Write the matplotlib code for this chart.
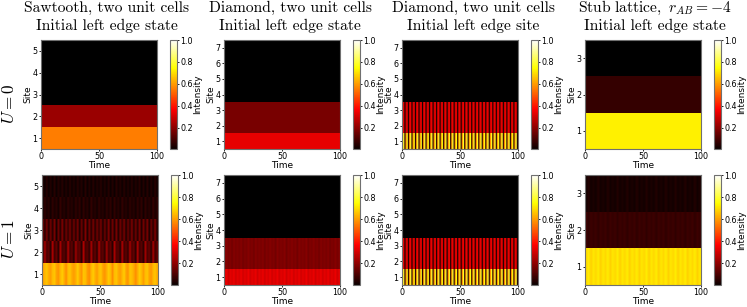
import copy
import numpy as np
import matplotlib
matplotlib.use('Agg')
from matplotlib import pyplot as plt

plt.rcParams['mathtext.fontset'] = 'cm'

W, H = 747, 307

# intensity per site, each row is one site over time (a single value = constant)
saw_top = [[0.555], [0.22], [0.0], [0.0], [0.0]]
saw_bot = [
    [0.60, 0.64, 0.66, 0.62, 0.60, 0.65, 0.66, 0.61, 0.59, 0.64, 0.67, 0.63, 0.58, 0.65, 0.66, 0.62,
     0.60, 0.63, 0.67, 0.62, 0.59, 0.66, 0.65, 0.60, 0.58, 0.64, 0.67, 0.63, 0.60, 0.65, 0.66, 0.61,
     0.59, 0.63, 0.67, 0.64, 0.58, 0.65, 0.66, 0.62, 0.60, 0.64, 0.67, 0.61, 0.59, 0.66, 0.65, 0.62,
     0.58, 0.63, 0.67, 0.64, 0.60, 0.65, 0.66, 0.61, 0.59, 0.64, 0.66, 0.62],
    [0.06, 0.24, 0.10, 0.13, 0.05, 0.25, 0.09, 0.14, 0.05, 0.24, 0.10, 0.12, 0.06, 0.25, 0.09, 0.13,
     0.05, 0.23, 0.11, 0.14, 0.05, 0.25, 0.10, 0.12, 0.06, 0.24, 0.09, 0.14, 0.05, 0.25, 0.10, 0.13,
     0.06, 0.23, 0.09, 0.14, 0.05, 0.24, 0.11, 0.12, 0.05, 0.25, 0.09, 0.13, 0.06, 0.24, 0.10, 0.14,
     0.05, 0.25, 0.09, 0.12, 0.06, 0.23, 0.10, 0.14, 0.05, 0.24, 0.09, 0.13],
    [0.16, 0.05, 0.17, 0.04, 0.16, 0.05, 0.17, 0.03, 0.15, 0.05, 0.18, 0.04, 0.16, 0.06, 0.17, 0.04,
     0.16, 0.05, 0.17, 0.03, 0.15, 0.05, 0.18, 0.04, 0.16, 0.05, 0.17, 0.04, 0.16, 0.06, 0.17, 0.03,
     0.15, 0.05, 0.18, 0.04, 0.16, 0.05, 0.17, 0.04, 0.16, 0.06, 0.17, 0.03, 0.15, 0.05, 0.18, 0.04,
     0.16, 0.05, 0.17, 0.04, 0.16, 0.06, 0.17, 0.03, 0.15, 0.05, 0.18, 0.04],
    [0.02, 0.06, 0.03, 0.05, 0.02, 0.06, 0.03, 0.05, 0.02, 0.07, 0.03, 0.05, 0.02, 0.06, 0.03, 0.05,
     0.02, 0.06, 0.03, 0.06, 0.02, 0.06, 0.03, 0.05, 0.02, 0.07, 0.03, 0.05, 0.02, 0.06, 0.03, 0.05,
     0.02, 0.06, 0.03, 0.06, 0.02, 0.06, 0.03, 0.05, 0.02, 0.07, 0.03, 0.05, 0.02, 0.06, 0.03, 0.05,
     0.02, 0.06, 0.03, 0.06, 0.02, 0.06, 0.03, 0.05, 0.02, 0.07, 0.03, 0.05],
    [0.04, 0.01, 0.05, 0.01, 0.04, 0.01, 0.05, 0.01, 0.04, 0.02, 0.05, 0.01, 0.04, 0.01, 0.05, 0.01,
     0.04, 0.01, 0.05, 0.02, 0.04, 0.01, 0.05, 0.01, 0.04, 0.01, 0.05, 0.01, 0.04, 0.02, 0.05, 0.01,
     0.04, 0.01, 0.05, 0.01, 0.04, 0.01, 0.05, 0.02, 0.04, 0.01, 0.05, 0.01, 0.04, 0.01, 0.05, 0.01,
     0.04, 0.02, 0.05, 0.01, 0.04, 0.01, 0.05, 0.01, 0.04, 0.01, 0.05, 0.02],
]

# diamond edge state, fine ripple on top of a flat level
dia_ripple_low = [0.31, 0.34, 0.30, 0.33, 0.31, 0.34, 0.30, 0.33, 0.31, 0.34, 0.30, 0.33, 0.31, 0.34, 0.30, 0.33,
                  0.31, 0.34, 0.30, 0.33, 0.31, 0.34, 0.30, 0.33, 0.31, 0.34, 0.30, 0.33, 0.31, 0.34, 0.30, 0.33,
                  0.31, 0.34, 0.30, 0.33, 0.31, 0.34, 0.30, 0.33, 0.31, 0.34, 0.30, 0.33, 0.31, 0.34, 0.30, 0.33,
                  0.31, 0.34, 0.30, 0.33, 0.31, 0.34, 0.30, 0.33, 0.31, 0.34, 0.30, 0.33, 0.31, 0.34, 0.30, 0.33]
dia_ripple_mid = [0.17, 0.19, 0.17, 0.18, 0.16, 0.19, 0.17, 0.18, 0.17, 0.19, 0.16, 0.18, 0.17, 0.19, 0.17, 0.18,
                  0.16, 0.19, 0.17, 0.18, 0.17, 0.19, 0.16, 0.18, 0.17, 0.19, 0.17, 0.18, 0.16, 0.19, 0.17, 0.18,
                  0.17, 0.19, 0.16, 0.18, 0.17, 0.19, 0.17, 0.18, 0.16, 0.19, 0.17, 0.18, 0.17, 0.19, 0.16, 0.18,
                  0.17, 0.19, 0.17, 0.18, 0.16, 0.19, 0.17, 0.18, 0.17, 0.19, 0.16, 0.18, 0.17, 0.19, 0.17, 0.18]
dia_top = [[0.335], [0.17], [0.17], [0.0], [0.0], [0.0], [0.0]]
dia_bot = [dia_ripple_low, dia_ripple_mid, dia_ripple_mid, [0.0], [0.0], [0.0], [0.0]]

# left edge site: about 33 fast oscillations
site_1 = [0.62, 0.80, 0.04, 0.58, 0.78, 0.06, 0.62, 0.80, 0.04, 0.60, 0.76, 0.06, 0.62, 0.80, 0.04, 0.58, 0.78,
          0.06, 0.62, 0.80, 0.04, 0.60, 0.76, 0.06, 0.62, 0.80, 0.04, 0.58, 0.78, 0.06, 0.62, 0.80, 0.04, 0.60,
          0.76, 0.06, 0.62, 0.80, 0.04, 0.58, 0.78, 0.06, 0.62, 0.80, 0.04, 0.60, 0.76, 0.06, 0.62, 0.80, 0.04,
          0.58, 0.78, 0.06, 0.62, 0.80, 0.04, 0.60, 0.76, 0.06, 0.62, 0.80, 0.04, 0.58, 0.78, 0.06, 0.62, 0.80,
          0.04, 0.60, 0.76, 0.06, 0.62, 0.80, 0.04, 0.58, 0.78, 0.06, 0.62, 0.80, 0.04, 0.60, 0.76, 0.06, 0.62,
          0.80, 0.04, 0.58, 0.78, 0.06, 0.62, 0.80, 0.04, 0.60, 0.76, 0.06, 0.62, 0.80, 0.04]
site_2 = [0.32, 0.35, 0.02, 0.30, 0.34, 0.03, 0.32, 0.35, 0.02, 0.31, 0.33, 0.03, 0.32, 0.35, 0.02, 0.30, 0.34,
          0.03, 0.32, 0.35, 0.02, 0.31, 0.33, 0.03, 0.32, 0.35, 0.02, 0.30, 0.34, 0.03, 0.32, 0.35, 0.02, 0.31,
          0.33, 0.03, 0.32, 0.35, 0.02, 0.30, 0.34, 0.03, 0.32, 0.35, 0.02, 0.31, 0.33, 0.03, 0.32, 0.35, 0.02,
          0.30, 0.34, 0.03, 0.32, 0.35, 0.02, 0.31, 0.33, 0.03, 0.32, 0.35, 0.02, 0.30, 0.34, 0.03, 0.32, 0.35,
          0.02, 0.31, 0.33, 0.03, 0.32, 0.35, 0.02, 0.30, 0.34, 0.03, 0.32, 0.35, 0.02, 0.31, 0.33, 0.03, 0.32,
          0.35, 0.02, 0.30, 0.34, 0.03, 0.32, 0.35, 0.02, 0.31, 0.33, 0.03, 0.32, 0.35, 0.02]
site_top = [site_1, site_2, site_2, [0.0], [0.0], [0.0], [0.0]]
site_bot = [site_1, site_2, site_2, [0.0], [0.0], [0.0], [0.0]]

stub_top = [[0.725], [0.07], [0.0]]
stub_1 = [0.69, 0.72, 0.68, 0.71, 0.69, 0.72, 0.68, 0.71, 0.69, 0.72, 0.68, 0.71, 0.69, 0.72, 0.68, 0.71,
          0.69, 0.72, 0.68, 0.71, 0.69, 0.72, 0.68, 0.71, 0.69, 0.72, 0.68, 0.71, 0.69, 0.72, 0.68, 0.71,
          0.69, 0.72, 0.68, 0.71, 0.69, 0.72, 0.68, 0.71, 0.69, 0.72, 0.68, 0.71, 0.69, 0.72, 0.68, 0.71]
stub_2 = [0.08, 0.06, 0.08, 0.07, 0.08, 0.06, 0.08, 0.07, 0.08, 0.06, 0.08, 0.07, 0.08, 0.06, 0.08, 0.07,
          0.08, 0.06, 0.08, 0.07, 0.08, 0.06, 0.08, 0.07, 0.08, 0.06, 0.08, 0.07, 0.08, 0.06, 0.08, 0.07,
          0.08, 0.06, 0.08, 0.07, 0.08, 0.06, 0.08, 0.07, 0.08, 0.06, 0.08, 0.07, 0.08, 0.06, 0.08, 0.07]
stub_3 = [0.02, 0.04, 0.02, 0.03, 0.02, 0.04, 0.02, 0.03, 0.02, 0.04, 0.02, 0.03, 0.02, 0.04, 0.02, 0.03,
          0.02, 0.04, 0.02, 0.03, 0.02, 0.04, 0.02, 0.03, 0.02, 0.04, 0.02, 0.03, 0.02, 0.04, 0.02, 0.03,
          0.02, 0.04, 0.02, 0.03, 0.02, 0.04, 0.02, 0.03, 0.02, 0.04, 0.02, 0.03, 0.02, 0.04, 0.02, 0.03]
stub_bot = [stub_1, stub_2, stub_3]

titles_1 = ['Sawtooth, two unit cells', 'Diamond, two unit cells', 'Diamond, two unit cells',
            r'$\mathrm{Stub\ lattice,}\ r_{AB}=-4$']
titles_2 = ['Initial left edge state', 'Initial left edge state', 'Initial left edge site', 'Initial left edge state']
top_panels = [saw_top, dia_top, site_top, stub_top]
bot_panels = [saw_bot, dia_bot, site_bot, stub_bot]
row_labels = ['$U=0$', '$U=1$']
time_ticks = [0, 50, 100]
cbar_ticks = [0.2, 0.4, 0.6, 0.8, 1.0]

# pixel boxes: left of the heatmaps, top and bottom of the rows, title centres
ax_left = [[41, 224, 402, 585], [42, 224, 402, 585]]
ax_w = 116
cb_off = 129
cb_w = 7
row_top = [40, 175]
row_bot = [149, 285]
title_x = [107, 290, 473, 655]

GREY = '#707070'
cmap = copy.copy(plt.get_cmap('hot'))
cmap.set_under('black')
fig = plt.figure(figsize=(W / 100, H / 100), dpi=100)


def draw_panel(rows, left, top, bottom):
    ax = fig.add_axes([left / W, 1 - bottom / H, ax_w / W, (bottom - top) / H])
    for i, row in enumerate(rows):
        # the fast rows get smoothed a bit, the source picture is soft there
        interp = 'nearest' if len(row) == 1 else 'bilinear'
        im = ax.imshow(np.array([row]), extent=(0, 100, i + 0.5, i + 1.5), origin='lower', aspect='auto',
                       cmap=cmap, vmin=0.005, vmax=1, interpolation=interp)
    ax.set_xlim(0, 100)
    ax.set_ylim(0.5, len(rows) + 0.5)
    ax.set_xticks(time_ticks)
    ax.set_yticks(range(1, len(rows) + 1))
    ax.tick_params(labelsize=5.8, length=1.5, width=0.6, pad=1)
    ax.set_xlabel('Time', fontsize=6.5, labelpad=0)
    ax.set_ylabel('Site', fontsize=6.5, labelpad=0)
    for s in ax.spines.values():
        s.set_color(GREY)
        s.set_linewidth(0.8)

    cax = fig.add_axes([(left + cb_off) / W, 1 - bottom / H, cb_w / W, (bottom - top) / H])
    cb = fig.colorbar(im, cax=cax, ticks=cbar_ticks)
    cb.ax.tick_params(labelsize=5.8, length=1.5, width=0.6, pad=1)
    cb.set_label('Intensity', fontsize=6.5, labelpad=0)
    cb.outline.set_edgecolor(GREY)
    cb.outline.set_linewidth(0.8)
    return ax


for j in range(4):
    draw_panel(top_panels[j], ax_left[0][j], row_top[0], row_bot[0])
    draw_panel(bot_panels[j], ax_left[1][j], row_top[1], row_bot[1])
    fig.text(title_x[j] / W, 1 - 12 / H, titles_1[j], fontsize=11.2, family='cmr10', ha='center', va='baseline')
    fig.text(title_x[j] / W, 1 - 30 / H, titles_2[j], fontsize=11.2, family='cmr10', ha='center', va='baseline')

for r in range(2):
    y = 1 - ((row_top[r] + row_bot[r]) / 2 + 9) / H
    fig.text(9 / W, y, row_labels[r], rotation=90, fontsize=12.3, ha='center', va='center')

fig.savefig('out.png', dpi=100)
